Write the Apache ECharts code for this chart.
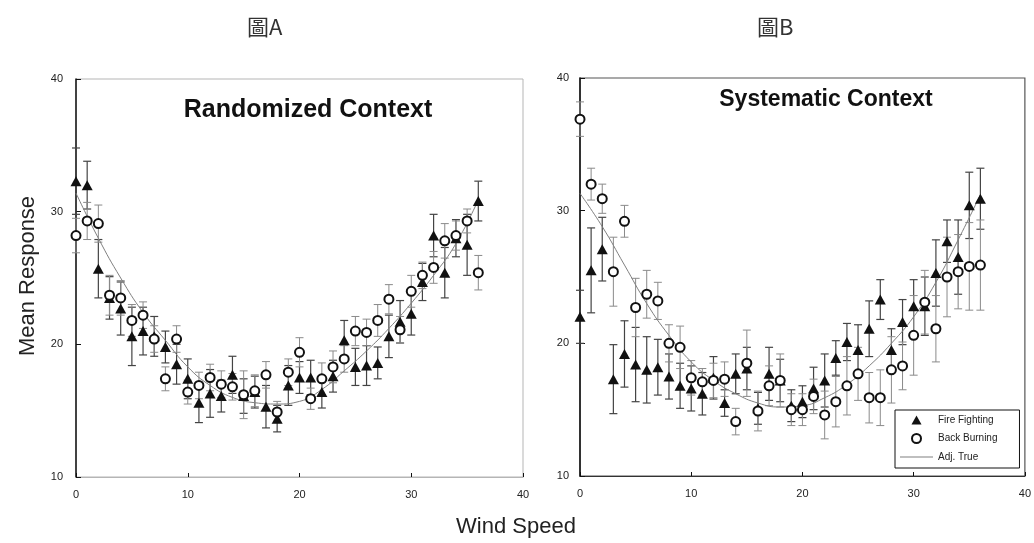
<!DOCTYPE html>
<html>
<head>
<meta charset="utf-8">
<script src="https://cdn.jsdelivr.net/npm/echarts/dist/echarts.min.js"></script>
<style>
  html, body { margin: 0; padding: 0; background: #fff; }
  #chart { width: 1034px; height: 543px; }
</style>
</head>
<body>
<div id="chart"></div>
<script>
// Wind speed levels shown on both panels
const windSpeed = [0, 1, 2, 3, 4, 5, 6, 7, 8, 9, 10, 11, 12, 13, 14, 15, 16, 17, 18,
                   19, 20, 21, 22, 23, 24, 25, 26, 27, 28, 29, 30, 31, 32, 33, 34, 35, 36];

// Panel A: randomized context
const fireA = [32.3, 32.0, 25.7, 23.5, 22.7, 20.6, 21.0, 20.6, 19.8, 18.5, 17.4, 15.6, 16.3,
               16.1, 17.7, 16.1, 16.4, 15.3, 14.4, 16.9, 17.5, 17.5, 16.4, 17.6, 20.3, 18.3,
               18.4, 18.6, 20.6, 21.7, 22.3, 24.7, 28.2, 25.4, 28.0, 27.5, 30.8];
const fireAErr = [2.5, 1.8, 2.2, 1.6, 2.0, 2.2, 1.8, 1.5, 1.2, 1.5, 1.5, 1.5, 1.8, 1.2, 1.4,
                  1.3, 1.2, 1.6, 1.0, 1.5, 1.2, 1.3, 1.2, 1.2, 1.5, 1.4, 1.5, 1.2, 1.6, 1.6,
                  1.6, 1.4, 1.6, 1.9, 1.4, 2.3, 1.5];
const backA = [28.2, 29.3, 29.1, 23.7, 23.5, 21.8, 22.2, 20.4, 17.4, 20.4, 16.4, 16.9, 17.5,
               17.0, 16.8, 16.2, 16.5, 17.7, 14.9, 17.9, 19.4, 15.9, 17.4, 18.3, 18.9, 21.0,
               20.9, 21.8, 23.4, 21.1, 24.0, 25.2, 25.8, 27.8, 28.2, 29.3, 25.4];
const backAErr = [1.3, 1.4, 1.4, 1.5, 1.3, 1.2, 1.0, 1.0, 0.9, 1.0, 0.9, 1.0, 1.0, 1.0, 1.0,
                  1.8, 1.2, 1.0, 0.8, 1.0, 1.1, 0.8, 1.2, 1.2, 1.0, 1.1, 1.0, 1.2, 1.1, 1.0,
                  1.2, 1.0, 1.2, 1.3, 1.1, 0.9, 1.3];

// Panel B: systematic context
const fireB = [22.0, 25.5, 27.1, 17.3, 19.2, 18.4, 18.0, 18.2, 17.5, 16.8, 16.6, 16.2, 17.4,
               15.5, 17.7, 18.1, 15.1, 17.7, 17.2, 15.3, 15.6, 16.6, 17.2, 18.9, 20.1, 19.5,
               21.1, 23.3, 19.5, 21.6, 22.8, 22.8, 25.3, 27.7, 26.5, 30.4, 30.9];
const fireBErr = [2.0, 3.2, 2.4, 2.6, 2.5, 2.8, 2.5, 2.1, 1.7, 1.7, 1.7, 1.6, 1.6, 1.0, 1.5,
                  1.6, 1.2, 2.0, 1.6, 1.2, 1.2, 1.6, 2.0, 1.3, 1.4, 1.9, 2.1, 1.5, 1.6, 1.7,
                  2.0, 2.2, 2.5, 1.6, 2.8, 2.5, 2.3];
const backB = [36.9, 32.0, 30.9, 25.4, 29.2, 22.7, 23.7, 23.2, 20.0, 19.7, 17.4, 17.1, 17.2,
               17.3, 14.1, 18.5, 14.9, 16.8, 17.2, 15.0, 15.0, 16.0, 14.6, 15.6, 16.8, 17.7,
               15.9, 15.9, 18.0, 18.3, 20.6, 23.1, 21.1, 25.0, 25.4, 25.8, 25.9];
const backBErr = [1.3, 1.2, 1.1, 2.6, 1.2, 2.2, 1.8, 1.4, 1.4, 1.6, 1.3, 1.0, 1.3, 1.3, 1.0,
                  2.5, 1.5, 1.5, 2.0, 1.2, 1.2, 1.3, 1.8, 1.9, 2.2, 2.0, 1.9, 2.1, 2.5, 1.8,
                  3.0, 2.4, 2.5, 3.0, 2.8, 3.3, 3.4];

// Adjusted true curve
const trueX = [0, 2, 4, 6, 8, 10, 12, 14, 16, 18, 20, 22, 24, 26, 28, 30, 32, 34, 36];
const trueA = [31.4, 28.0, 25.0, 22.4, 20.3, 18.3, 16.9, 16.0, 15.6, 15.5, 15.7, 16.6, 18.0,
               19.5, 21.2, 23.1, 25.2, 27.6, 30.9];
const trueB = [31.3, 28.8, 25.9, 23.0, 20.6, 18.6, 17.2, 16.2, 15.5, 15.2, 15.3, 15.9, 16.9,
               18.3, 20.0, 22.0, 24.6, 27.8, 31.2];

const xTicks = [0, 10, 20, 30, 40];
const yTicks = [10, 20, 30, 40];

const FONT = '"Liberation Sans", Arial, sans-serif';
const INK = '#111';

// Legend glyphs kept at their own aspect ratio inside the 33px icon slot
const ICON_TRIANGLE = 'path://M5,0L10,9L0,9Z';
const ICON_CIRCLE = 'path://M0,4.5a4.5,4.5 0 1,0 9,0a4.5,4.5 0 1,0 -9,0Z';
const ICON_LINE = 'path://M0,0L33,0L33,1L0,1Z';

function withErr(ys, errs) {
  return windSpeed.map((x, i) => [x, ys[i], errs[i]]);
}

function errorBars(color, width) {
  return function (params, api) {
    const x = api.value(0), y = api.value(1), e = api.value(2);
    const hi = api.coord([x, y + e]);
    const lo = api.coord([x, y - e]);
    const cap = 4;
    const style = { stroke: color, lineWidth: width };
    return {
      type: 'group',
      children: [
        { type: 'line', shape: { x1: hi[0], y1: hi[1], x2: lo[0], y2: lo[1] }, style },
        { type: 'line', shape: { x1: hi[0] - cap, y1: hi[1], x2: hi[0] + cap, y2: hi[1] }, style },
        { type: 'line', shape: { x1: lo[0] - cap, y1: lo[1], x2: lo[0] + cap, y2: lo[1] }, style }
      ]
    };
  };
}

function xAxisFor(gridIndex, lineColor) {
  return {
    gridIndex, type: 'value', min: xTicks[0], max: xTicks[xTicks.length - 1], interval: 10,
    axisLine: { show: true, lineStyle: { color: lineColor, width: 1 } },
    axisTick: { show: true, inside: true, length: 4, lineStyle: { color: INK } },
    axisLabel: { color: '#222', fontSize: 11, fontFamily: FONT, margin: 12 },
    splitLine: { show: false }
  };
}

function yAxisFor(gridIndex, margin) {
  return {
    gridIndex, type: 'value', min: yTicks[0], max: yTicks[yTicks.length - 1], interval: 10,
    axisLine: { show: true, lineStyle: { color: INK, width: 1.5 } },
    axisTick: { show: true, inside: true, length: 5, lineStyle: { color: INK } },
    axisLabel: { color: '#222', fontSize: 11, fontFamily: FONT, margin },
    splitLine: { show: false }
  };
}

function panelSeries(idx, fire, fireErr, back, backErr, adj) {
  return [
    {
      type: 'custom', xAxisIndex: idx, yAxisIndex: idx, z: 2, silent: true,
      renderItem: errorBars('#444', 1.2), data: withErr(fire, fireErr)
    },
    {
      type: 'custom', xAxisIndex: idx, yAxisIndex: idx, z: 2, silent: true,
      renderItem: errorBars('#8a8a8a', 1), data: withErr(back, backErr)
    },
    {
      name: 'Adj. True', type: 'line', xAxisIndex: idx, yAxisIndex: idx, z: 3,
      smooth: true, showSymbol: false, symbol: 'none',
      lineStyle: { color: '#808080', width: 1 }, itemStyle: { color: '#808080' },
      data: trueX.map((x, i) => [x, adj[i]])
    },
    {
      name: 'Fire Fighting', type: 'scatter', xAxisIndex: idx, yAxisIndex: idx, z: 4,
      symbol: 'triangle', symbolSize: [11, 10],
      itemStyle: { color: INK, opacity: 1 },
      data: windSpeed.map((x, i) => [x, fire[i]])
    },
    {
      name: 'Back Burning', type: 'scatter', xAxisIndex: idx, yAxisIndex: idx, z: 5,
      symbol: 'circle', symbolSize: 9,
      itemStyle: { color: '#fff', borderColor: INK, borderWidth: 2, opacity: 1 },
      data: windSpeed.map((x, i) => [x, back[i]])
    }
  ];
}

const chart = echarts.init(document.getElementById('chart'), null, { renderer: 'canvas' });

chart.setOption({
  animation: false,
  backgroundColor: '#fff',
  grid: [
    { left: 76, top: 79, width: 447, height: 398, show: true, borderColor: '#b5b5b5', borderWidth: 1 },
    { left: 580, top: 78, width: 446, height: 398, show: true, borderColor: '#555', borderWidth: 1.2 }
  ],
  xAxis: [xAxisFor(0, '#b5b5b5'), xAxisFor(1, '#333')],
  yAxis: [yAxisFor(0, 13), yAxisFor(1, 11)],
  legend: {
    show: true, orient: 'vertical', left: 895, top: 410,
    symbolKeepAspect: true,
    data: [
      { name: 'Fire Fighting', icon: ICON_TRIANGLE },
      { name: 'Back Burning', icon: ICON_CIRCLE, itemStyle: { color: '#fff', borderColor: INK, borderWidth: 2 } },
      { name: 'Adj. True', icon: ICON_LINE, itemStyle: { color: '#808080' } }
    ],
    itemWidth: 33, itemHeight: 9, itemGap: 8,
    padding: [5, 22, 6, 5],
    borderColor: INK, borderWidth: 1,
    textStyle: { fontSize: 10, fontFamily: FONT, color: '#222' },
    selectedMode: false
  },
  graphic: [
    { type: 'text', left: 247, top: 16, style: { text: '圖A', font: '22px "Noto Sans CJK TC"', fill: '#333' } },
    { type: 'text', left: 757, top: 16, style: { text: '圖B', font: '22px "Noto Sans CJK TC"', fill: '#333' } },
    { type: 'text', x: 308, y: 110, style: { text: 'Randomized Context', font: 'bold 25px ' + FONT, fill: INK, align: 'center', verticalAlign: 'middle' } },
    { type: 'text', x: 826, y: 100, style: { text: 'Systematic Context', font: 'bold 23px ' + FONT, fill: INK, align: 'center', verticalAlign: 'middle' } },
    { type: 'text', x: 28, y: 276, rotation: Math.PI / 2, style: { text: 'Mean Response', font: '22px ' + FONT, fill: '#222', align: 'center', verticalAlign: 'middle' } },
    { type: 'text', x: 516, y: 527, style: { text: 'Wind Speed', font: '22px ' + FONT, fill: '#222', align: 'center', verticalAlign: 'middle' } }
  ],
  series: [
    ...panelSeries(0, fireA, fireAErr, backA, backAErr, trueA),
    ...panelSeries(1, fireB, fireBErr, backB, backBErr, trueB)
  ]
});
</script>
</body>
</html>
